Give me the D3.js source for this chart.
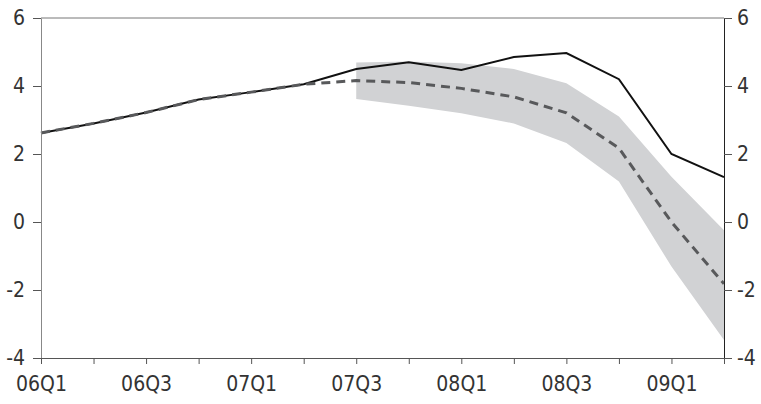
<!DOCTYPE html>
<html>
<head>
<meta charset="utf-8">
<script src="https://cdn.jsdelivr.net/npm/d3@7"></script>
<style>
  body { margin: 0; background: #fff; }
  svg text { font-family: "DejaVu Sans Condensed", "DejaVu Sans", sans-serif; fill: #333; }
</style>
</head>
<body>
<div id="chart"></div>
<script>
'use strict';

/*** Data */
const quarters = ["06Q1","06Q2","06Q3","06Q4","07Q1","07Q2","07Q3","07Q4",
                  "08Q1","08Q2","08Q3","08Q4","09Q1","09Q2"];
const tickLabels = ["06Q1","06Q3","07Q1","07Q3","08Q1","08Q3","09Q1"];
const yTicks = [-4, -2, 0, 2, 4, 6];

// actual outturn (solid)
const actual = [2.62, 2.9, 3.22, 3.6, 3.82, 4.05, 4.5, 4.7, 4.47, 4.85, 4.97, 4.2, 2.0, 1.32];
// projection (dashed)
const projection = [2.62, 2.9, 3.22, 3.6, 3.82, 4.05, 4.16, 4.1, 3.93, 3.68, 3.21, 2.17, 0.0, -1.82];
// band around projection, from 07Q3
const bandStart = 6;
const bandUpper = [4.69, 4.72, 4.67, 4.5, 4.08, 3.1, 1.33, -0.24];
const bandLower = [3.62, 3.42, 3.2, 2.9, 2.32, 1.19, -1.31, -3.47];

/*** Dimensions */
const w = 761, h = 404;
const margin = {top: 18, right: 37, bottom: 46, left: 41};

const svg = d3.select("#chart").append("svg")
    .attr("width", w)
    .attr("height", h);

const xScale = d3.scalePoint()
    .domain(quarters)
    .range([margin.left, w - margin.right]);

const yScale = d3.scaleLinear()
    .domain([-4, 6])
    .range([h - margin.bottom, margin.top]);

/** Band */
const bandData = bandUpper.map((u, i) => ({q: quarters[bandStart + i], u: u, l: bandLower[i]}));
svg.append("path")
    .datum(bandData)
    .attr("fill", "#d1d2d4")
    .attr("d", d3.area()
        .x(d => xScale(d.q))
        .y0(d => yScale(d.l))
        .y1(d => yScale(d.u)));

/** Lines */
const line = d3.line()
    .x((d, i) => xScale(quarters[i]))
    .y(d => yScale(d));

svg.append("path")
    .datum(actual)
    .attr("fill", "none")
    .attr("stroke", "#111")
    .attr("stroke-width", 2)
    .attr("d", line);

svg.append("path")
    .datum(projection)
    .attr("fill", "none")
    .attr("stroke", "#58595b")
    .attr("stroke-width", 3)
    .attr("stroke-dasharray", "9,6")
    .attr("d", line);

/** Frame top */
svg.append("line")
    .attr("x1", margin.left).attr("x2", w - margin.right)
    .attr("y1", yScale(6)).attr("y2", yScale(6))
    .attr("stroke", "#777").attr("stroke-width", 1);

/** Axes */
const fmt = d => String(d); // plain hyphen for negatives, as in the original
const yLeft = d3.axisLeft(yScale).tickValues(yTicks).tickSize(8).tickSizeOuter(0).tickPadding(8).tickFormat(fmt);
const yRight = d3.axisRight(yScale).tickValues(yTicks).tickSize(8).tickSizeOuter(0).tickPadding(5).tickFormat(fmt);
const xAxis = d3.axisBottom(xScale).tickSize(6).tickSizeOuter(0).tickPadding(12)
    .tickFormat(d => tickLabels.includes(d) ? d : "");

const gl = svg.append("g")
    .attr("transform", "translate(" + margin.left + ",0)")
    .call(yLeft);
const gr = svg.append("g")
    .attr("transform", "translate(" + (w - margin.right) + ",0)")
    .call(yRight);
const gx = svg.append("g")
    .attr("transform", "translate(0," + (h - margin.bottom) + ")")
    .call(xAxis);

[gl, gr, gx].forEach(g => {
    g.attr("font-family", null);
    g.selectAll("text").style("font-size", "21px").attr("fill", "#333");
    g.selectAll("line").attr("stroke", "#555");
    g.select(".domain").attr("stroke", "#555");
});
gl.select(".domain").attr("stroke", "#888");
gr.select(".domain").attr("stroke", "#222");
</script>
</body>
</html>
